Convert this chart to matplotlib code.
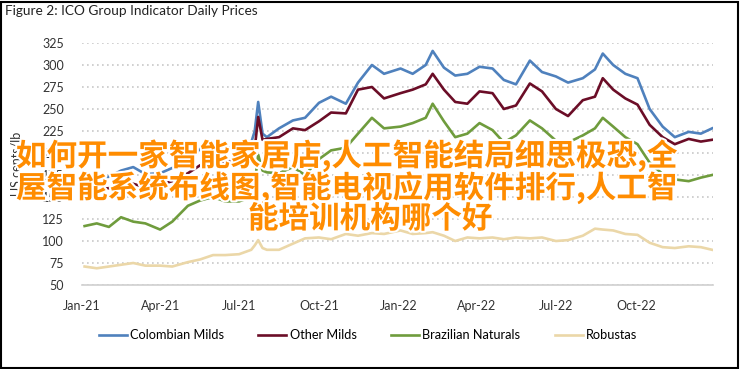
import matplotlib
matplotlib.use("Agg")
import matplotlib.pyplot as plt
import matplotlib.dates as mdates
import matplotlib.patheffects as pe
from matplotlib.patches import Rectangle
import numpy as np

# Data (US cents/lb)
dates = ['2021-01-04', '2021-01-18', '2021-02-01', '2021-02-15', '2021-03-01', '2021-03-15',
         '2021-04-01', '2021-04-15', '2021-05-03', '2021-05-17', '2021-06-01', '2021-06-15',
         '2021-07-01', '2021-07-15', '2021-07-19', '2021-07-23', '2021-07-28', '2021-08-02',
         '2021-08-16', '2021-09-01', '2021-09-15', '2021-10-01', '2021-10-15', '2021-11-01',
         '2021-11-15', '2021-12-01', '2021-12-15', '2022-01-03', '2022-01-17', '2022-02-01',
         '2022-02-09', '2022-02-22', '2022-03-07', '2022-03-21', '2022-04-04', '2022-04-19',
         '2022-05-02', '2022-05-16', '2022-06-01', '2022-06-15', '2022-07-01', '2022-07-15',
         '2022-08-01', '2022-08-15', '2022-08-24', '2022-09-05', '2022-09-19', '2022-10-03',
         '2022-10-17', '2022-11-01', '2022-11-15', '2022-12-01', '2022-12-15', '2022-12-28']

colombian = [173, 171, 173, 180, 184, 176, 177, 183, 188, 205, 210, 207,
             203, 212, 225, 258, 222, 218, 228, 237, 240, 257, 264, 256,
             280, 300, 290, 296, 290, 300, 316, 297, 288, 290, 298, 296,
             283, 278, 305, 292, 287, 280, 285, 295, 313, 300, 290, 285,
             250, 230, 218, 224, 222, 228]

other = [164, 159, 160, 166, 165, 161, 164, 168, 177, 186, 188, 190,
         192, 196, 205, 241, 215, 216, 218, 228, 226, 236, 246, 245,
         272, 275, 262, 268, 272, 278, 290, 272, 258, 256, 270, 268,
         250, 254, 279, 270, 250, 242, 260, 264, 285, 272, 262, 255,
         232, 218, 210, 216, 213, 215]

brazilian = [117, 120, 116, 127, 122, 120, 113, 122, 140, 146, 150, 145,
             145, 150, 165, 198, 180, 178, 177, 184, 175, 193, 203, 206,
             222, 240, 228, 230, 234, 240, 256, 236, 218, 222, 234, 226,
             212, 220, 237, 228, 214, 212, 220, 228, 240, 230, 218, 210,
             189, 176, 170, 168, 172, 175]

robustas = [71, 69, 71, 73, 75, 72, 72, 71, 76, 79, 84, 84,
            85, 90, 95, 101, 92, 90, 90, 97, 103, 104, 102, 108,
            106, 109, 108, 112, 108, 109, 110, 106, 100, 104, 103, 104,
            102, 104, 103, 104, 100, 101, 106, 114, 113, 112, 108, 107,
            98, 93, 92, 94, 93, 90]

series_names = ['Colombian Milds', 'Other Milds', 'Brazilian Naturals', 'Robustas']
series_colors = ['#4f81bd', '#6b0d27', '#6f9c3d', '#ebd7a8']

overlay_lines = ['如何开一家智能家居店,人工智能结局细思极恐,全',
                 '屋智能系统布线图,智能电视应用软件排行,人工智',
                 '能培训机构哪个好']

x = np.array(dates, dtype='datetime64[D]')

W, H = 742, 369
fig = plt.figure(figsize=(W / 100, H / 100), dpi=100)
ax = fig.add_axes([82 / W, 1 - 285 / H, (713 - 82) / W, (285 - 43) / H])

latin = 'Lato'
for vals, name, col in zip([colombian, other, brazilian, robustas], series_names, series_colors):
    ax.plot(x, vals, color=col, lw=1.9, label=name, solid_joinstyle='round')

ax.set_ylim(50, 325)
ax.set_yticks(np.arange(50, 326, 25))
ax.set_xlim(np.datetime64('2021-01-01'), np.datetime64('2022-12-29'))
ax.xaxis.set_major_locator(mdates.MonthLocator(bymonth=[1, 4, 7, 10]))
ax.xaxis.set_major_formatter(mdates.DateFormatter('%b-%y'))

ax.grid(axis='y', color='#c8c8c8', linestyle=(0, (1, 2)), lw=1.2)
ax.set_axisbelow(True)
for s in ['top', 'right', 'left']:
    ax.spines[s].set_visible(False)
ax.spines['bottom'].set_color('#d0d0d0')
ax.spines['bottom'].set_linewidth(1.2)
ax.tick_params(length=0, labelsize=9, colors='#333333')
ax.tick_params(axis='y', pad=13)
ax.tick_params(axis='x', pad=11)
for lab in ax.get_xticklabels() + ax.get_yticklabels():
    lab.set_fontfamily(latin)

ax.set_ylabel('US cents/lb', fontsize=9, family=latin, color='#333333', labelpad=14)

fig.text(5 / W, 1 - 11 / H, 'Figure 2: ICO Group Indicator Daily Prices', fontsize=9.8,
         family=latin, color='#222222', va='center', ha='left')

fig.legend(loc='center', bbox_to_anchor=(368 / W, 1 - 335 / H), ncol=4, frameon=False,
           prop={'family': latin, 'size': 9.2}, handlelength=2.2, handletextpad=0.25,
           columnspacing=2.7)

# orange overlay text with white outline
fx = [16, 16, 248]
fy = [156, 188, 219]
for t, px, py in zip(overlay_lines, fx, fy):
    fig.text(px / W, 1 - py / H, t, fontsize=22, weight='bold', color='#ff8c00',
             family=['Noto Sans CJK SC', 'DejaVu Sans'], ha='left', va='center',
             path_effects=[pe.withStroke(linewidth=3, foreground='white')], zorder=10)

fig.patches.append(Rectangle((1 / W, 1 / H), 737 / W, 366 / H, transform=fig.transFigure,
                             fill=False, edgecolor='black', lw=1.5))

fig.savefig('out.png', dpi=100)
